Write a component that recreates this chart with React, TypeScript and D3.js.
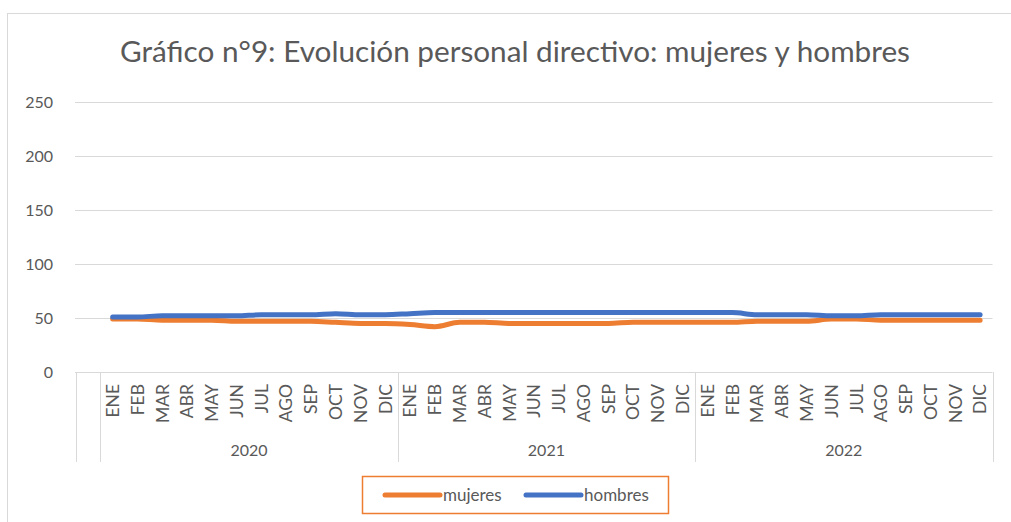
import React from 'react'
import * as d3 from 'd3'

const title = 'Gráfico n°9: Evolución personal directivo: mujeres y hombres'
const years = ['2020', '2021', '2022']
const months = ['ENE', 'FEB', 'MAR', 'ABR', 'MAY', 'JUN', 'JUL', 'AGO', 'SEP', 'OCT', 'NOV', 'DIC']
const yTicks = [0, 50, 100, 150, 200, 250]

const mujeres = [
	49, 49, 48, 48, 48, 47, 47, 47, 47, 46, 45, 45,
	44, 42, 46, 46, 45, 45, 45, 45, 45, 46, 46, 46,
	46, 46, 47, 47, 47, 49, 49, 48, 48, 48, 48, 48,
]
const hombres = [
	51, 51, 52, 52, 52, 52, 53, 53, 53, 54, 53, 53,
	54, 55, 55, 55, 55, 55, 55, 55, 55, 55, 55, 55,
	55, 55, 53, 53, 53, 52, 52, 53, 53, 53, 53, 53,
]

const series = [
	{ name: 'mujeres', values: mujeres, color: '#ED7D31' },
	{ name: 'hombres', values: hombres, color: '#4472C4' },
]

const FONT = 'Lato, "Open Sans", sans-serif'
const TEXT = '#595959'
const GRID = '#D9D9D9'

export default function App() {
	const keys = years.flatMap(y => months.map(m => `${y}-${m}`))
	// Excel left an empty first category in the multi-level axis
	const x = d3.scaleBand<string>().domain(['', ...keys]).range([75.5, 992.5])
	const y = d3.scaleLinear().domain([0, 250]).range([372, 102])
	const cx = (k: string) => (x(k) as number) + x.bandwidth() / 2

	const line = d3
		.line<number>()
		.curve(d3.curveMonotoneX)
		.x((_, i) => cx(keys[i]))
		.y(d => y(d))

	const yearEdges = [x('') as number, ...years.map(yr => x(`${yr}-ENE`) as number), 992.5]

	return (
		<svg width={1011} height={522} style={{ position: 'absolute', left: 0, top: 0, background: '#fff' }}>
			<rect x={7.5} y={13.5} width={1100} height={600} fill="#fff" stroke={GRID} />
			<text x={515} y={62} textAnchor="middle" fontFamily={FONT} fontSize={28} fill={TEXT}
				textLength={790} lengthAdjust="spacingAndGlyphs">{title}</text>

			{yTicks.map(t => (
				<g key={t}>
					<line x1={75} x2={992.5} y1={y(t) + 0.5} y2={y(t) + 0.5} stroke={GRID} />
					<text x={53} y={y(t)} dy="0.35em" textAnchor="end" fontFamily={FONT} fontSize={16} fill={TEXT}>{t}</text>
				</g>
			))}

			{yearEdges.map((e, i) => (
				<line key={i} x1={Math.round(e) + 0.5} x2={Math.round(e) + 0.5} y1={372} y2={462} stroke={GRID} />
			))}

			{keys.map(k => (
				<text key={k} transform={`translate(${cx(k)},384) rotate(-90)`} textAnchor="end" dy="0.36em"
					fontFamily={FONT} fontSize={17.5} fill={TEXT}>{k.split('-')[1]}</text>
			))}
			{years.map(yr => {
				const a = x(`${yr}-ENE`) as number
				const b = (x(`${yr}-DIC`) as number) + x.bandwidth()
				return (
					<text key={yr} x={(a + b) / 2} y={450} dy="0.35em" textAnchor="middle"
						fontFamily={FONT} fontSize={16} fill={TEXT}>{yr}</text>
				)
			})}

			{series.map(s => (
				<path key={s.name} d={line(s.values) ?? ''} fill="none" stroke={s.color}
					strokeWidth={5} strokeLinecap="round" strokeLinejoin="round" />
			))}

			<rect x={362.5} y={476.5} width={306} height={37} fill="#fff" stroke="#ED7D31" strokeWidth={1.5} />
			{series.map((s, i) => {
				const lx = i === 0 ? 385 : 526
				return (
					<g key={s.name}>
						<line x1={lx} x2={lx + 55} y1={495} y2={495} stroke={s.color} strokeWidth={5} strokeLinecap="round" />
						<text x={lx + 58} y={495} dy="0.35em" fontFamily={FONT} fontSize={17} fill={TEXT}>{s.name}</text>
					</g>
				)
			})}
		</svg>
	)
}
